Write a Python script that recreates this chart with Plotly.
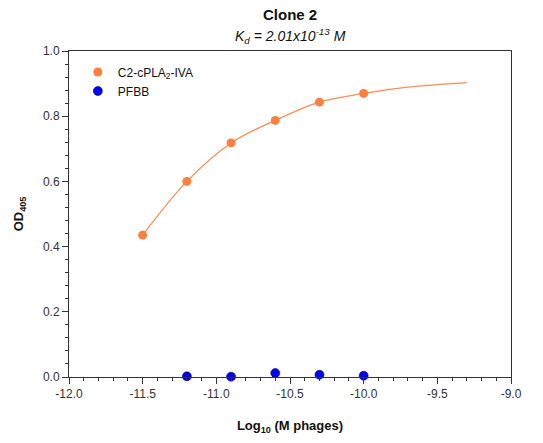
import plotly.graph_objects as go

# Data
conc_log = [-11.5, -11.2, -10.9, -10.6, -10.3, -10.0]
od_target = [0.435, 0.600, 0.718, 0.787, 0.843, 0.870]

pfbb_log = [-11.2, -10.9, -10.6, -10.3, -10.0]
od_pfbb = [0.002, 0.001, 0.012, 0.007, 0.004]

fit_log = [-11.5, -11.2, -10.9, -10.6, -10.3, -10.0, -9.7, -9.3]
fit_od = [0.435, 0.600, 0.718, 0.787, 0.843, 0.870, 0.889, 0.903]

x_ticks = [-12.0, -11.5, -11.0, -10.5, -10.0, -9.5, -9.0]
x_ticktext = ["-12.0", "-11.5", "-11.0", "-10.5", "-10.0", "-9.5", "-9.0"]
y_ticks = [0.0, 0.2, 0.4, 0.6, 0.8, 1.0]
y_ticktext = ["0.0", "0.2", "0.4", "0.6", "0.8", "1.0"]

FONT = "Arial, Liberation Sans, sans-serif"
ORANGE = "#FF7F3F"
BLUE = "#0000FF"

fig = go.Figure()
fig.add_trace(go.Scatter(
    x=fit_log, y=fit_od, mode="lines", line=dict(color="#FF8C55", width=1.3, shape="spline"),
    showlegend=False, hoverinfo="skip"))
fig.add_trace(go.Scatter(
    x=conc_log, y=od_target, mode="markers", name="C2-cPLA<sub>2</sub>-IVA",
    marker=dict(color=ORANGE, size=9, line=dict(width=0))))
fig.add_trace(go.Scatter(
    x=pfbb_log, y=od_pfbb, mode="markers", name="PFBB",
    marker=dict(color=BLUE, size=9, line=dict(color="#00007F", width=0.6)), cliponaxis=False))

axis_common = dict(showline=True, linecolor="#333333", linewidth=1, mirror=True,
                   showgrid=False, zeroline=False, ticks="outside", ticklen=6,
                   tickcolor="#333333", tickfont=dict(family=FONT, size=12, color="#333333"))

fig.update_xaxes(range=[-12.0, -9.0], tickvals=x_ticks, ticktext=x_ticktext,
                 minor=dict(dtick=0.1, tick0=-12.0, ticks="outside", ticklen=3, tickcolor="#333333"),
                 title=dict(text="<b>Log<sub>10</sub> (M phages)</b>", font=dict(family=FONT, size=13, color="#111111"), standoff=20),
                 **axis_common)
fig.update_yaxes(range=[0.0, 1.0], tickvals=y_ticks, ticktext=y_ticktext,
                 minor=dict(dtick=0.04, tick0=0.0, ticks="outside", ticklen=3, tickcolor="#333333"),
                 title=dict(text="<b>OD<sub>405</sub></b>", font=dict(family=FONT, size=13, color="#111111"), standoff=16),
                 **axis_common)

fig.update_layout(
    width=543, height=443,
    margin=dict(l=69, r=32, t=51, b=59),
    paper_bgcolor="white", plot_bgcolor="white",
    font=dict(family=FONT, size=12, color="#111111"),
    showlegend=True,
    legend=dict(x=0.02, y=0.98, xanchor="left", yanchor="top", bgcolor="rgba(0,0,0,0)",
                font=dict(family=FONT, size=12, color="#111111"),
                tracegroupgap=2),
    annotations=[
        dict(text="<b>Clone 2</b>", x=0.5, y=1.0, xref="paper", yref="paper", yshift=26,
             showarrow=False, font=dict(family=FONT, size=15, color="#111111"), xanchor="center", yanchor="bottom"),
        dict(text="<i>K<sub>d</sub> = 2.01x10<sup>-13</sup> M</i>", x=0.5, y=1.0, xref="paper", yref="paper", yshift=3,
             showarrow=False, font=dict(family=FONT, size=14, color="#111111"), xanchor="center", yanchor="bottom"),
    ],
)

fig.write_html("out.html")
